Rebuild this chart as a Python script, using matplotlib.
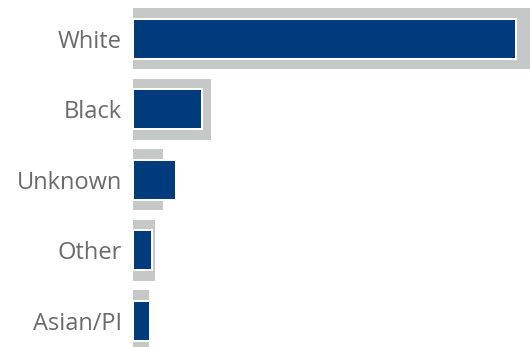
import matplotlib
matplotlib.use("Agg")
import matplotlib.pyplot as plt

categories = ["White", "Black", "Unknown", "Other", "Asian/PI"]
navy_values = [72.8, 13.1, 8.2, 3.6, 3.2]
gray_values = [80.0, 14.8, 5.7, 4.2, 3.0]

fig = plt.figure(figsize=(5.30, 3.47), dpi=100)
ax = fig.add_axes([133/530, 0, 1 - 133/530, 1])

ypos = list(range(len(categories)))
ax.barh(ypos, gray_values, height=0.865, color="#c6c7c7", zorder=1)
ax.barh(ypos, navy_values, height=0.567, color="#003b7c",
        edgecolor="white", linewidth=1.44, zorder=2)

ax.set_xlim(0, 75.5)
ax.set_ylim(4.369, -0.553)
ax.set_yticks(ypos)
ax.set_yticklabels(categories, fontsize=17, color="#6a6a6a",
                   family=["Open Sans", "DejaVu Sans"], fontweight="normal")
ax.tick_params(axis="y", length=0, pad=8)
ax.set_xticks([])
for s in ax.spines.values():
    s.set_visible(False)

fig.savefig("out.png", dpi=100)
